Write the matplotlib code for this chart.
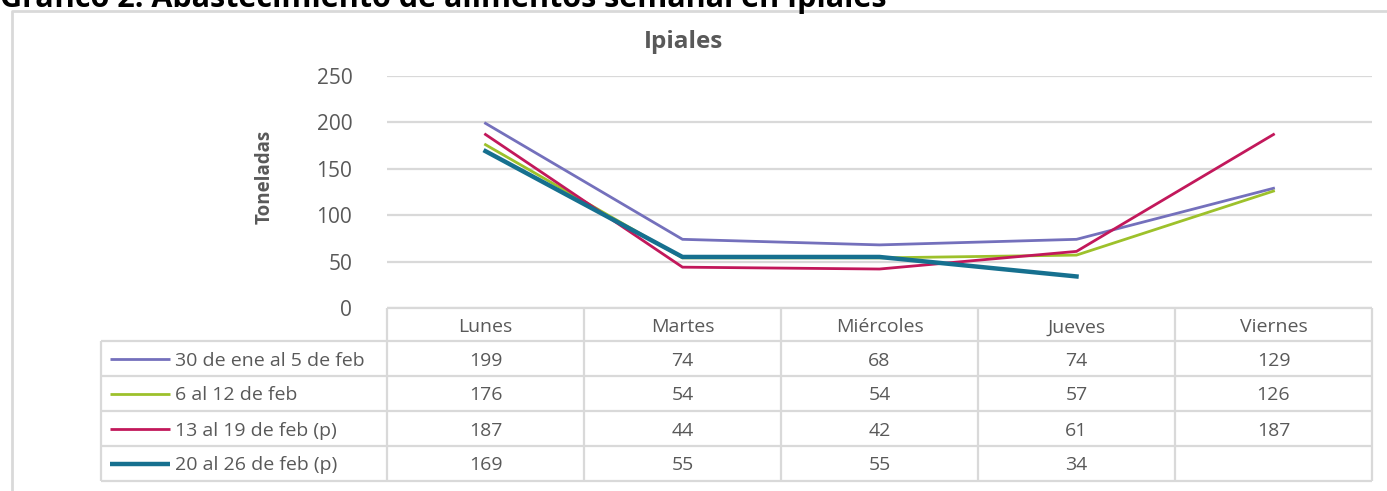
import matplotlib
matplotlib.use("Agg")
import matplotlib.pyplot as plt
import numpy as np

days = ["Lunes", "Martes", "Miércoles", "Jueves", "Viernes"]
series_names = ["30 de ene al 5 de feb", "6 al 12 de feb", "13 al 19 de feb (p)", "20 al 26 de feb (p)"]
s1 = [199, 74, 68, 74, 129]
s2 = [176, 54, 54, 57, 126]
s3 = [187, 44, 42, 61, 187]
s4 = [169, 55, 55, 34, None]
yticks = [0, 50, 100, 150, 200, 250]

colors = ["#7470BC", "#9DC12B", "#C2185B", "#16708F"]
widths = [2.0, 2.0, 2.0, 3.2]
series = [s1, s2, s3, s4]

W, H = 1387, 491
plt.rcParams['font.family'] = ['Open Sans', 'DejaVu Sans']
fig = plt.figure(figsize=(W / 100, H / 100), dpi=100)

# overlay in pixel coordinates
ov = fig.add_axes([0, 0, 1, 1])
ov.set_xlim(0, W)
ov.set_ylim(H, 0)
ov.axis('off')

grid_c = "#D9D9D9"
text_c = "#595959"

# outer chart border
ov.plot([12, 12, W + 5], [H + 5, 11, 11], color="#D9D9D9", lw=2.0, solid_capstyle='butt')
# clipped document title
ov.text(0, 7, "Gráfico 2. Abastecimiento de alimentos semanal en Ipiales",
        fontsize=22, fontweight='bold', color='black', va='baseline', ha='left')
# chart title
ov.text(684, 42, "Ipiales", fontsize=17.5, fontweight='bold', color=text_c,
        ha='center', va='center')
# y label
ov.text(265, 177, "Toneladas", fontsize=13.5, fontweight='bold', color=text_c,
        ha='center', va='center', rotation=90)

# main axes
x0, x1 = 387, 1372
ytop, ybot = 76, 308
ax = fig.add_axes([x0 / W, (H - ybot) / H, (x1 - x0) / W, (ybot - ytop) / H])
ax.set_xlim(-0.5, len(days) - 0.5)
ax.set_ylim(0, 250)
ax.set_yticks(yticks)
ax.set_xticks([])
for sp in ax.spines.values():
    sp.set_visible(False)
ax.grid(axis='y', color=grid_c, lw=1.6)
ax.set_axisbelow(True)
ax.tick_params(axis='y', length=0, pad=25, labelsize=15, labelcolor=text_c)
ax.patch.set_alpha(0)

xs = np.arange(len(days))
for s, c, w in zip(series, colors, widths):
    ys = np.array([np.nan if v is None else v for v in s], dtype=float)
    ax.plot(xs, ys, color=c, lw=w, solid_joinstyle='miter')

# data table
col_w = (x1 - x0) / len(days)
row_edges = [308, 341, 376, 411, 446, 481]
leg_left = 101
for i, y in enumerate(row_edges):
    left = x0 if i == 0 else leg_left
    ov.plot([left, x1], [y, y], color=grid_c, lw=1.6, solid_capstyle='butt')
for j in range(len(days) + 1):
    xx = x0 + j * col_w
    ov.plot([xx, xx], [308, 481], color=grid_c, lw=1.6, solid_capstyle='butt')
ov.plot([leg_left, leg_left], [341, 481], color=grid_c, lw=1.6, solid_capstyle='butt')

fs = 14
for j, d in enumerate(days):
    ov.text(x0 + (j + 0.5) * col_w, (row_edges[0] + row_edges[1]) / 2 + 1, d,
            ha='center', va='center_baseline', fontsize=fs, color=text_c)
for i, (name, s, c, w) in enumerate(zip(series_names, series, colors, widths)):
    yc = (row_edges[i + 1] + row_edges[i + 2]) / 2
    ov.plot([110, 170], [yc, yc], color=c, lw=w, solid_capstyle='butt')
    ov.text(175, yc, name, ha='left', va='center_baseline', fontsize=fs, color=text_c)
    for j, v in enumerate(s):
        if v is not None:
            ov.text(x0 + (j + 0.5) * col_w, yc, str(v), ha='center', va='center_baseline',
                    fontsize=fs, color=text_c)

fig.savefig("out.png", dpi=100)
